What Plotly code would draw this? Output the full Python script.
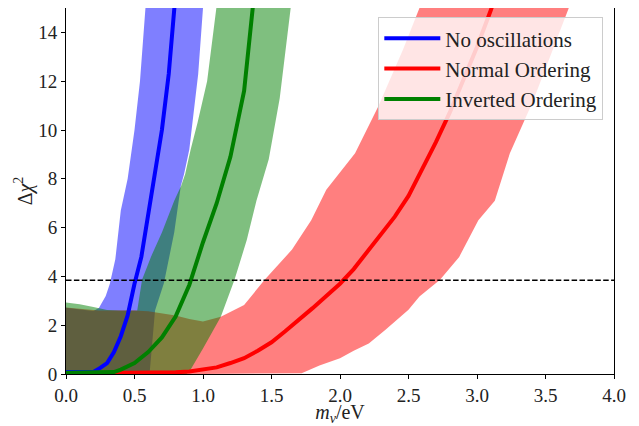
import plotly.graph_objects as go

# ---------------- data ----------------
THRESHOLD = 3.84  # Delta chi^2 95% line

SERIES_NAMES = ["No oscillations", "Normal Ordering", "Inverted Ordering"]

# No oscillations (blue)
NO_OSC_LINE_X = [0.0, 0.1, 0.2, 0.25, 0.3, 0.35, 0.4, 0.45, 0.5, 0.55, 0.6, 0.65, 0.7, 0.75, 0.8]
NO_OSC_LINE_Y = [0.08, 0.08, 0.08, 0.25, 0.45, 0.9, 1.55, 2.4, 3.7, 4.8, 6.6, 8.2, 10.0, 12.3, 15.6]
NO_OSC_UP_X = [0.0, 0.1, 0.2, 0.24, 0.29, 0.32, 0.36, 0.40, 0.45, 0.50, 0.54, 0.58, 0.6]
NO_OSC_UP_Y = [2.72, 2.65, 2.58, 2.7, 3.2, 3.7, 4.7, 6.7, 8.0, 10.0, 12.0, 15.0, 16.0]
NO_OSC_LO_X = [0.0, 0.61, 0.65, 0.715, 0.79, 0.838, 0.862, 0.90, 0.92, 0.965, 1.0, 1.02]
NO_OSC_LO_Y = [0.0, 0.0, 2.6, 3.73, 5.8, 7.7, 8.2, 9.2, 10.0, 12.3, 15.0, 16.0]

# Normal ordering (red)
NO_LINE_X = [0.0, 0.5, 0.8, 0.9, 1.0, 1.1, 1.2, 1.3, 1.4, 1.5, 1.6, 1.7, 1.8, 1.9, 2.0,
             2.1, 2.2, 2.3, 2.4, 2.5, 2.6, 2.7, 2.8, 2.9, 3.0, 3.1, 3.2]
NO_LINE_Y = [0.02, 0.03, 0.07, 0.1, 0.17, 0.27, 0.45, 0.65, 0.95, 1.3, 1.75, 2.2, 2.7, 3.2, 3.7,
             4.3, 5.0, 5.7, 6.45, 7.3, 8.4, 9.5, 10.7, 12.0, 13.4, 14.9, 16.5]
NO_UP_X = [0.0, 0.1, 0.24, 0.5, 0.6, 0.8, 0.9, 1.0, 1.13, 1.3, 1.45, 1.65, 1.79, 1.9,
           2.11, 2.28, 2.46, 2.58, 2.65]
NO_UP_Y = [2.73, 2.68, 2.6, 2.6, 2.57, 2.4, 2.25, 2.15, 2.35, 2.83, 3.86, 5.1, 6.3, 7.55,
           9.05, 10.97, 13.3, 15.0, 16.0]
NO_LO_X = [0.0, 1.0, 1.72, 1.85, 2.0, 2.1, 2.21, 2.33, 2.5, 2.58, 2.73, 2.87, 3.01, 3.13,
           3.24, 3.41, 3.67, 3.75]
NO_LO_Y = [0.0, 0.0, 0.03, 0.35, 0.65, 0.95, 1.25, 1.8, 2.63, 3.18, 3.86, 4.8, 6.3, 7.1,
           9.05, 11.2, 15.0, 16.0]

# Inverted ordering (green)
IO_LINE_X = [0.0, 0.1, 0.2, 0.3, 0.35, 0.4, 0.5, 0.6, 0.7, 0.8, 0.9, 1.0, 1.1, 1.2, 1.3, 1.4]
IO_LINE_Y = [0.05, 0.05, 0.05, 0.05, 0.08, 0.18, 0.45, 0.9, 1.5, 2.35, 3.65, 5.4, 7.0, 8.9, 11.6, 17.0]
IO_UP_X = [0.0, 0.1, 0.2, 0.3, 0.4, 0.52, 0.555, 0.62, 0.70, 0.79, 0.84, 0.87, 0.91, 0.96,
           1.03, 1.095, 1.12]
IO_UP_Y = [2.93, 2.86, 2.75, 2.62, 2.6, 2.6, 3.86, 4.8, 5.8, 7.1, 7.7, 8.2, 9.2, 10.3,
           12.0, 15.0, 16.0]
IO_LO_X = [0.0, 0.88, 0.91, 1.0, 1.13, 1.23, 1.32, 1.39, 1.48, 1.56, 1.64, 1.67]
IO_LO_Y = [0.0, 0.0, 0.18, 1.05, 2.35, 3.86, 5.5, 7.1, 8.8, 11.3, 15.0, 16.0]

X_TICKS = [0.0, 0.5, 1.0, 1.5, 2.0, 2.5, 3.0, 3.5, 4.0]
Y_TICKS = [0, 2, 4, 6, 8, 10, 12, 14]

# ---------------- figure ----------------
FONT = "Liberation Serif"
TXT = "#222222"
fig = go.Figure()


def add_band(xu, yu, xl, yl, color):
    fig.add_trace(go.Scatter(
        x=list(xu) + list(reversed(xl)),
        y=list(yu) + list(reversed(yl)),
        fill="toself", fillcolor=color, mode="lines",
        line=dict(width=0), showlegend=False, hoverinfo="skip"))


add_band(NO_OSC_UP_X, NO_OSC_UP_Y, NO_OSC_LO_X, NO_OSC_LO_Y, "rgba(0,0,255,0.5)")
add_band(NO_UP_X, NO_UP_Y, NO_LO_X, NO_LO_Y, "rgba(255,0,0,0.5)")
add_band(IO_UP_X, IO_UP_Y, IO_LO_X, IO_LO_Y, "rgba(0,128,0,0.5)")

for name, xs, ys, col in [
    (SERIES_NAMES[0], NO_OSC_LINE_X, NO_OSC_LINE_Y, "#0000ff"),
    (SERIES_NAMES[1], NO_LINE_X, NO_LINE_Y, "#ff0000"),
    (SERIES_NAMES[2], IO_LINE_X, IO_LINE_Y, "#008000"),
]:
    fig.add_trace(go.Scatter(x=xs, y=ys, mode="lines", name=name,
                             legendgroup=name,
                             line=dict(color=col, width=4)))

fig.add_trace(go.Scatter(x=[X_TICKS[0], X_TICKS[-1]], y=[THRESHOLD, THRESHOLD],
                         mode="lines", showlegend=False, hoverinfo="skip",
                         line=dict(color="black", width=1.5, dash="5.5px,2.4px")))

axis_common = dict(showline=True, linecolor="black", linewidth=1, mirror=True,
                   ticks="outside", ticklen=4, tickwidth=1, tickcolor="black",
                   showgrid=False, zeroline=False, automargin=False,
                   tickfont=dict(family=FONT, size=19, color=TXT))

fig.update_xaxes(range=[0, 4], tickvals=X_TICKS,
                 ticktext=[f"{v:.1f}" for v in X_TICKS],
                 title=dict(text="<i>m</i><sub><i>ν</i></sub>/eV",
                            font=dict(family=FONT, size=20, color=TXT), standoff=4),
                 **axis_common)
fig.update_yaxes(range=[0, 15], tickvals=Y_TICKS,
                 ticktext=[str(v) for v in Y_TICKS],
                 title=dict(text="Δ<i>χ</i><sup>2</sup>",
                            font=dict(family=FONT, size=20, color=TXT), standoff=0),
                 **axis_common)

# the page body adds an 8px offset, so the figure is 8px smaller than the window
fig.update_layout(
    width=631, height=418,
    margin=dict(l=58, r=25, t=0, b=52, autoexpand=False),
    paper_bgcolor="white", plot_bgcolor="white",
    showlegend=True,
    legend=dict(x=0.9805, xanchor="right", y=0.975, yanchor="top",
                bgcolor="rgba(255,255,255,0.8)", bordercolor="#cccccc", borderwidth=1,
                font=dict(family=FONT, size=21, color=TXT),
                traceorder="grouped", tracegroupgap=0, itemwidth=56),
)

fig.write_html("out.html")
